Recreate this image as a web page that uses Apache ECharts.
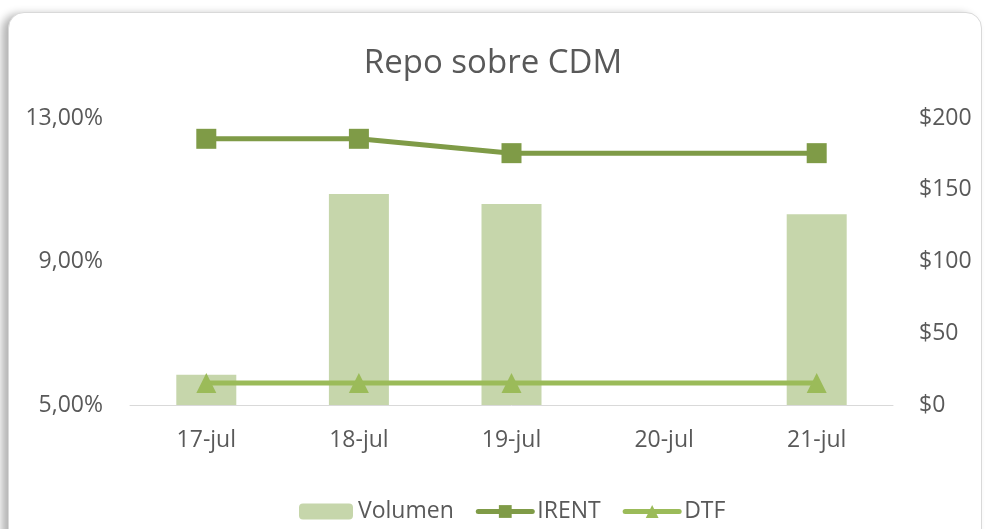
<!DOCTYPE html>
<html>
<head>
<meta charset="utf-8">
<script src="https://cdn.jsdelivr.net/npm/echarts@6/dist/echarts.min.js"></script>
<style>
  html, body { margin: 0; padding: 0; background: #ffffff; }
  .frame {
    position: absolute; left: 8px; top: 12px; width: 972px; height: 540px;
    border: 1px solid #d9d9d9; border-radius: 16px; background: #fff;
    box-shadow: -6px 2px 8px rgba(0,0,0,0.3);
  }
  #mychart { position: absolute; left: 0; top: 0; width: 986px; height: 529px; }
</style>
</head>
<body>
<div class="frame"></div>
<div id="mychart"></div>
<script>
// datos
var categories = ['17-jul', '18-jul', '19-jul', '20-jul', '21-jul'];
var volumen = [21, 147, 140, null, 133];
var irent = [12.42, 12.42, 12.02, null, 12.02];
var dtf = [5.61, 5.61, 5.61, null, 5.61];

var txt = '#595959';
var fontFam = '"Open Sans", "Noto Sans", sans-serif';

var myChart = echarts.init(document.getElementById('mychart'));
var option = {
  backgroundColor: 'transparent',
  textStyle: { fontFamily: fontFam },
  title: {
    text: 'Repo sobre CDM',
    left: 'center',
    top: 42,
    textStyle: { fontSize: 33, fontWeight: 'normal', color: txt, fontFamily: fontFam }
  },
  grid: { left: 130, right: 93, top: 118, bottom: 124 },
  legend: {
    top: 495,
    left: 294,
    itemWidth: 54,
    itemHeight: 16,
    itemGap: 22,
    textStyle: { fontSize: 23, color: txt, fontFamily: fontFam },
    data: [
      { name: 'Volumen' },
      { name: 'IRENT', lineStyle: { width: 5, cap: 'round' } },
      { name: 'DTF', lineStyle: { width: 5, cap: 'round' } }
    ]
  },
  xAxis: [{
    type: 'category',
    data: categories,
    axisTick: { show: false },
    axisLine: { lineStyle: { color: '#d9d9d9', width: 1 } },
    axisLabel: { fontSize: 23, color: txt, margin: 24 }
  }],
  yAxis: [{
    type: 'value',
    min: 5, max: 13, interval: 4,
    splitLine: { show: false },
    axisLabel: {
      fontSize: 23, color: txt, margin: 27,
      formatter: function (v) { return v.toFixed(2).replace('.', ',') + '%'; }
    }
  }, {
    type: 'value',
    min: 0, max: 200, interval: 50,
    splitLine: { show: false },
    axisLabel: { fontSize: 23, color: txt, margin: 26, formatter: '${value}' }
  }],
  series: [{
    name: 'Volumen',
    type: 'bar',
    yAxisIndex: 1,
    barWidth: 60,
    itemStyle: { color: '#c6d6ab' },
    data: volumen
  }, {
    name: 'IRENT',
    type: 'line',
    yAxisIndex: 0,
    connectNulls: true,
    symbol: 'rect',
    symbolSize: 20,
    lineStyle: { color: '#7f9b47', width: 5 },
    itemStyle: { color: '#7f9b47' },
    data: irent
  }, {
    name: 'DTF',
    type: 'line',
    yAxisIndex: 0,
    connectNulls: true,
    symbol: 'triangle',
    symbolSize: 20,
    lineStyle: { color: '#9bbb59', width: 5 },
    itemStyle: { color: '#9bbb59' },
    data: dtf
  }]
};
myChart.setOption(option);
</script>
</body>
</html>
